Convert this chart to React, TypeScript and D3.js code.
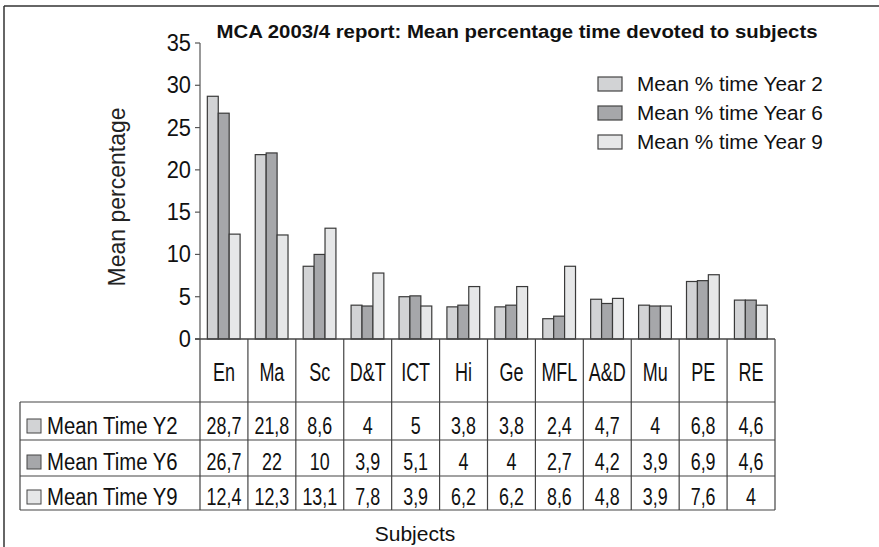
import * as d3 from "d3";
import React from "react";

const subjects = ["En", "Ma", "Sc", "D&T", "ICT", "Hi", "Ge", "MFL", "A&D", "Mu", "PE", "RE"];
const year2 = [28.7, 21.8, 8.6, 4, 5, 3.8, 3.8, 2.4, 4.7, 4, 6.8, 4.6];
const year6 = [26.7, 22, 10, 3.9, 5.1, 4, 4, 2.7, 4.2, 3.9, 6.9, 4.6];
const year9 = [12.4, 12.3, 13.1, 7.8, 3.9, 6.2, 6.2, 8.6, 4.8, 3.9, 7.6, 4];
const legendNames = ["Mean % time Year 2", "Mean % time Year 6", "Mean % time Year 9"];
const tableNames = ["Mean Time Y2", "Mean Time Y6", "Mean Time Y9"];
const yTicks = [0, 5, 10, 15, 20, 25, 30, 35];

const series = [year2, year6, year9];
const fills = ["#d2d3d5", "#a6a7aa", "#e6e7e8"];
const stroke = "#3a3a3a";
const font = "'Liberation Sans', Arial, sans-serif";

const width = 879;
const height = 547;

// squeezed text, the original uses a condensed face
function Txt(props: { x: number; y: number; size: number; sx?: number; anchor?: string; weight?: string; children: any }) {
  const { x, y, size, sx = 1, anchor = "start", weight = "normal", children } = props;
  return (
    <text transform={`translate(${x},${y}) scale(${sx},1)`} textAnchor={anchor} fontSize={size}
      fontWeight={weight} fill="#111">
      {children}
    </text>
  );
}

export default function App() {
  const x = d3.scaleBand().domain(subjects).range([200, 775]).padding(0);
  const bw = x.bandwidth();
  const inner = d3.scaleBand().domain(["0", "1", "2"]).range([bw * 0.153, bw * 0.837]).padding(0);
  const y = d3.scaleLinear().domain([0, 35]).range([339, 43]);

  // table rows (header + 3 data rows)
  const rowEdges = [339, 402, 440, 476, 510];
  const valBase = [434, 470, 505];
  const fmt = (v: number) => String(v).replace(".", ",");

  return (
    <svg width={width} height={height} style={{ position: "absolute", left: 0, top: 0, background: "#fff" }}
      fontFamily={font}>
      {/* frame */}
      <line x1={4} x2={width} y1={6} y2={6} stroke="#333" strokeWidth={1.5} />
      <line x1={4} x2={4} y1={6} y2={height} stroke="#333" strokeWidth={1.5} />

      <text x={517} y={38} textAnchor="middle" fontSize={19} fontWeight="bold" fill="#111"
        textLength={601} lengthAdjust="spacingAndGlyphs">
        MCA 2003/4 report: Mean percentage time devoted to subjects
      </text>

      {/* y axis */}
      <line x1={200} x2={200} y1={y(35)} y2={y(0)} stroke="#555" strokeWidth={1.2} />
      {yTicks.map((t) => (
        <g key={t}>
          <line x1={195} x2={200} y1={y(t)} y2={y(t)} stroke="#555" strokeWidth={1.2} />
          <Txt x={191} y={y(t) + 8} size={23} sx={0.95} anchor="end">{t}</Txt>
        </g>
      ))}
      <text transform={`translate(125,197) rotate(-90)`} textAnchor="middle" fontSize={23} fill="#222">
        Mean percentage
      </text>

      {/* bars */}
      {subjects.map((s, i) => (
        <g key={s} transform={`translate(${x(s)},0)`}>
          {series.map((arr, k) => (
            <rect key={k} x={inner(String(k))} y={y(arr[i])} width={inner.bandwidth()}
              height={y(0) - y(arr[i])} fill={fills[k]} stroke={stroke} strokeWidth={1.2} />
          ))}
        </g>
      ))}

      {/* legend */}
      {legendNames.map((n, k) => (
        <g key={n}>
          <rect x={598} y={77 + k * 29} width={24} height={14} fill={fills[k]} stroke="#444" strokeWidth={1.2} />
          <Txt x={637} y={91 + k * 29} size={21} sx={0.99}>{n}</Txt>
        </g>
      ))}

      {/* data table */}
      <line x1={195} x2={775} y1={339} y2={339} stroke="#444" strokeWidth={1.6} />
      {rowEdges.slice(1).map((ry) => (
        <line key={ry} x1={20} x2={775} y1={ry} y2={ry} stroke="#444" strokeWidth={1.2} />
      ))}
      <line x1={20} x2={20} y1={402} y2={510} stroke="#444" strokeWidth={1.2} />
      {subjects.concat(["end"]).map((s, i) => {
        const xx = 200 + i * bw;
        return <line key={s} x1={xx} x2={xx} y1={339} y2={510} stroke="#444" strokeWidth={1.2} />;
      })}
      {subjects.map((s) => (
        <Txt key={s} x={(x(s) as number) + bw / 2} y={381} size={25} sx={0.72} anchor="middle">{s}</Txt>
      ))}
      {series.map((arr, k) => (
        <g key={k}>
          <rect x={27} y={valBase[k] - 15} width={14} height={14}
            fill={fills[k]} stroke="#444" strokeWidth={1} />
          <Txt x={47} y={valBase[k]} size={24.5} sx={0.83}>{tableNames[k]}</Txt>
          {subjects.map((s, i) => (
            <Txt key={s} x={(x(s) as number) + bw / 2} y={valBase[k]} size={24.5} sx={0.73} anchor="middle">
              {fmt(arr[i])}
            </Txt>
          ))}
        </g>
      ))}

      <Txt x={415} y={541} size={21} anchor="middle">Subjects</Txt>
    </svg>
  );
}
